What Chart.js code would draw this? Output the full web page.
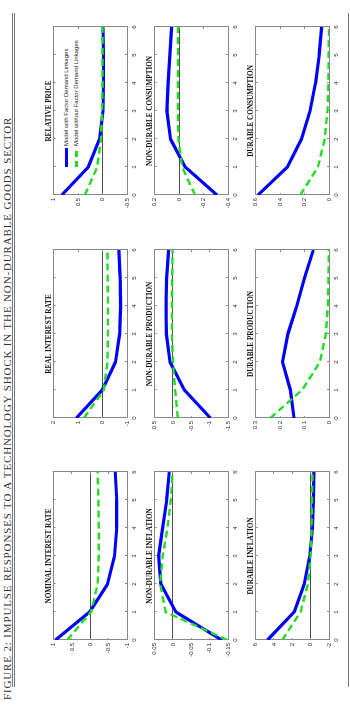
<!DOCTYPE html>
<html>
<head>
<meta charset="utf-8">
<title>Figure 2: Impulse responses</title>
<script src="https://cdn.jsdelivr.net/npm/chart.js@4.4.1/dist/chart.umd.min.js"></script>
<style>
    html, body { margin: 0; padding: 0; background: #fff; }
    body { width: 350px; height: 708px; overflow: hidden; position: relative; }
    /* the page is laid out landscape, then turned a quarter left */
    #page {
        position: absolute; left: 0; top: 0; width: 708px; height: 350px;
        transform-origin: 0 0; transform: translate(0, 708px) rotate(-90deg);
    }
    #caption {
        position: absolute; left: 8px; top: 1.5px; white-space: nowrap;
        font-family: 'Liberation Serif', serif; font-size: 11px; letter-spacing: 0.85px;
        line-height: 10px; color: #333;
    }
    .rule { position: absolute; left: 21px; width: 674px; height: 0; border-top: 1px solid #777; }
    canvas { position: absolute; }
    .legend {
        position: absolute; left: 541px; top: 61px; white-space: nowrap;
        font-family: 'Liberation Sans', Arial, sans-serif; font-size: 6px; color: #222;
    }
    .legend div { height: 10px; line-height: 10px; }
    .legend span { display: inline-block; width: 19px; vertical-align: middle; margin-right: 2px; }
    .legend .solid { height: 3px; background: #0000ff; }
    .legend .dash { height: 2.4px; background: repeating-linear-gradient(90deg, #22dd22 0 6px, transparent 6px 10px); }
</style>
</head>
<body>
<div id="page">
    <div id="caption">FIGURE 2: IMPULSE RESPONSES TO A TECHNOLOGY SHOCK IN THE NON-DURABLE GOODS SECTOR</div>
    <div class="rule" style="top:12px"></div>
    <div class="rule" style="top:14px"></div>
    <div class="rule" style="top:348px"></div>
    <div class="legend">
        <div><span class="solid"></span>Model with Factor Demand Linkages</div>
        <div><span class="dash"></span>Model without Factor Demand Linkages</div>
    </div>
</div>
<script>
// ============================================
// DATA (quarters 0..6)
// ============================================
var periods = [0, 1, 2, 3, 4, 5, 6];

// Row 1
var nominalWith    = [0.95, 0.02, -0.47, -0.66, -0.72, -0.72, -0.68];
var nominalWithout = [0.63, -0.02, -0.2, -0.23, -0.23, -0.22, -0.2];
var realWith       = [1.07, 0.01, -0.53, -0.7, -0.74, -0.72, -0.67];
var realWithout    = [0.76, -0.05, -0.2, -0.22, -0.22, -0.21, -0.2];
var priceWith      = [0.83, 0.29, 0.06, -0.01, -0.02, -0.02, -0.01];
var priceWithout   = [0.36, 0.11, 0.03, 0.01, 0, 0, 0];

// Row 2
var ndInflWith     = [-0.133, -0.008, 0.033, 0.039, 0.028, 0.017, 0.01];
var ndInflWithout  = [-0.148, 0.02, 0.035, 0.028, 0.015, 0.006, 0.001];
var ndProdWith     = [-1.02, -0.31, 0.08, 0.18, 0.19, 0.17, 0.12];
var ndProdWithout  = [-0.13, -0.06, 0.0, 0.03, 0.03, 0.02, 0.01];
var ndConsWith     = [-0.31, -0.05, 0.07, 0.1, 0.09, 0.075, 0.06];
var ndConsWithout  = [-0.13, -0.025, 0.005, 0.01, 0.01, 0.01, 0.01];

// Row 3
var dInflWith      = [4.7, 1.8, 0.7, 0.1, -0.2, -0.3, -0.35];
var dInflWithout   = [3.1, 1.1, 0.3, 0.0, -0.1, -0.15, -0.2];
var dProdWith      = [0.143, 0.158, 0.19, 0.168, 0.132, 0.1, 0.064];
var dProdWithout   = [0.24, 0.11, 0.037, 0.013, 0.005, 0.002, 0.001];
var dConsWith      = [0.58, 0.34, 0.225, 0.155, 0.11, 0.08, 0.06];
var dConsWithout   = [0.235, 0.09, 0.035, 0.013, 0.005, 0.002, 0.001];

// Value axis ticks
var nominalTicks = [-1, -0.5, 0, 0.5, 1];
var realTicks    = [-1, 0, 1, 2];
var priceTicks   = [-0.5, 0, 0.5, 1];
var ndInflTicks  = [-0.15, -0.1, -0.05, 0, 0.05];
var ndProdTicks  = [-1.5, -1, -0.5, 0, 0.5];
var ndConsTicks  = [-0.4, -0.2, 0, 0.2];
var dInflTicks   = [-2, 0, 2, 4, 6];
var dProdTicks   = [0, 0.1, 0.2, 0.3];
var dConsTicks   = [0, 0.2, 0.4, 0.6];

var seriesWith = 'Model with Factor Demand Linkages';
var seriesWithout = 'Model without Factor Demand Linkages';

// ============================================
// LAYOUT (landscape page coordinates)
// ============================================
var panels = [
    { title: 'NOMINAL INTEREST RATE',     a: nominalWith, b: nominalWithout, ticks: nominalTicks, row: 0, col: 0 },
    { title: 'REAL INTEREST RATE',        a: realWith,    b: realWithout,    ticks: realTicks,    row: 0, col: 1 },
    { title: 'RELATIVE PRICE',            a: priceWith,   b: priceWithout,   ticks: priceTicks,   row: 0, col: 2 },
    { title: 'NON-DURABLE INFLATION',     a: ndInflWith,  b: ndInflWithout,  ticks: ndInflTicks,  row: 1, col: 0 },
    { title: 'NON-DURABLE PRODUCTION',    a: ndProdWith,  b: ndProdWithout,  ticks: ndProdTicks,  row: 1, col: 1 },
    { title: 'NON-DURABLE CONSUMPTION',   a: ndConsWith,  b: ndConsWithout,  ticks: ndConsTicks,  row: 1, col: 2 },
    { title: 'DURABLE INFLATION',         a: dInflWith,   b: dInflWithout,   ticks: dInflTicks,   row: 2, col: 0 },
    { title: 'DURABLE PRODUCTION',        a: dProdWith,   b: dProdWithout,   ticks: dProdTicks,   row: 2, col: 1 },
    { title: 'DURABLE CONSUMPTION',       a: dConsWith,   b: dConsWithout,   ticks: dConsTicks,   row: 2, col: 2 }
];

var colLeft = [68, 290, 513];
var rowTop = [53, 154, 255];
var boxW = 168, boxH = 74;
var sideW = 26, titleH = 8, xAxisH = 12;

Chart.defaults.font.family = "'Liberation Sans', Arial, sans-serif";
Chart.defaults.font.size = 6;
Chart.defaults.color = '#333';

function toPoints(values) {
    var pts = [];
    for (var i = 0; i < periods.length; i++) {
        pts.push({ x: periods[i], y: values[i] });
    }
    return pts;
}

function tickFormat(v) {
    return String(Math.round(v * 1000) / 1000);
}

function setTicks(list) {
    return function(scale) {
        scale.ticks = list.map(function(v) { return { value: v }; });
    };
}

function makePanel(p) {
    var canvas = document.createElement('canvas');
    canvas.width = sideW + boxW + sideW;
    canvas.height = titleH + boxH + xAxisH;
    canvas.style.left = (colLeft[p.col] - sideW) + 'px';
    canvas.style.top = (rowTop[p.row] - titleH) + 'px';
    document.getElementById('page').appendChild(canvas);

    var yMin = p.ticks[0], yMax = p.ticks[p.ticks.length - 1];
    var edge = '#888';

    new Chart(canvas, {
        type: 'line',
        data: {
            datasets: [
                { label: seriesWith, data: toPoints(p.a), borderColor: '#0000ff', borderWidth: 3.2,
                  borderJoinStyle: 'round', order: 2 },
                { label: seriesWithout, data: toPoints(p.b), borderColor: '#22dd22', borderWidth: 2.4,
                  borderDash: [7, 4], order: 1 }
            ]
        },
        options: {
            responsive: false,
            animation: false,
            devicePixelRatio: 1,
            events: [],
            layout: { padding: 0 },
            elements: { point: { radius: 0 }, line: { tension: 0, fill: false } },
            plugins: {
                legend: { display: false },
                tooltip: { enabled: false },
                title: {
                    display: true, text: p.title, color: '#111', padding: 0,
                    font: { family: "'Liberation Serif', serif", size: 7.2, weight: 'bold', lineHeight: '8px' }
                }
            },
            scales: {
                x: {
                    type: 'linear', position: 'bottom', min: 0, max: 6,
                    afterBuildTicks: setTicks(periods),
                    afterFit: function(s) { s.height = xAxisH; },
                    ticks: { padding: 5.5, maxRotation: 0, autoSkip: false, callback: tickFormat },
                    grid: { drawOnChartArea: false, tickLength: -2, color: edge },
                    border: { color: edge }
                },
                x2: {
                    type: 'linear', position: 'top', min: 0, max: 6,
                    afterBuildTicks: setTicks(periods),
                    afterFit: function(s) { s.height = 0; },
                    ticks: { display: false },
                    grid: { drawOnChartArea: false, tickLength: -2, color: edge },
                    border: { color: edge }
                },
                y: {
                    type: 'linear', position: 'left', min: yMin, max: yMax,
                    afterBuildTicks: setTicks(p.ticks),
                    afterFit: function(s) { s.width = sideW; },
                    ticks: { padding: 5, autoSkip: false, callback: tickFormat },
                    grid: {
                        drawOnChartArea: true, tickLength: -2, tickColor: edge, lineWidth: 0.8,
                        color: function(ctx) {
                            if (ctx.tick && Math.abs(ctx.tick.value) < 1e-9) return '#222';
                            return 'rgba(0,0,0,0)';
                        }
                    },
                    border: { color: edge }
                },
                y2: {
                    type: 'linear', position: 'right', min: yMin, max: yMax,
                    afterBuildTicks: setTicks(p.ticks),
                    afterFit: function(s) { s.width = sideW; },
                    ticks: { display: false },
                    grid: { drawOnChartArea: false, tickLength: -2, color: edge },
                    border: { color: edge }
                }
            }
        }
    });
}

for (var i = 0; i < panels.length; i++) {
    makePanel(panels[i]);
}
</script>
</body>
</html>
